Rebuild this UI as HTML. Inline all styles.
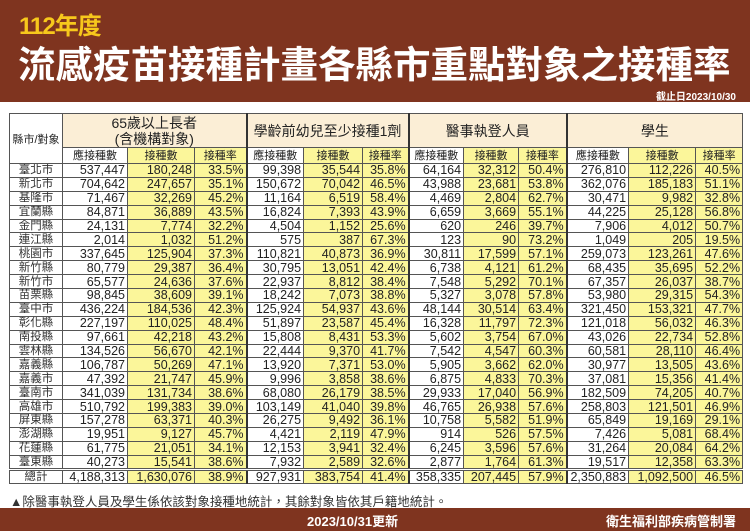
<!DOCTYPE html>
<html><head><meta charset="utf-8"><style>
*{margin:0;padding:0;box-sizing:border-box}
body{width:750px;height:531px;overflow:hidden;background:#fff;font-family:"Liberation Sans","Noto Sans CJK TC",sans-serif;position:relative}
.top{position:absolute;left:0;top:0;width:750px;height:102px;background:#7f341f}
.y{position:absolute;left:19px;top:12px;font-size:24px;font-weight:bold;color:#f7c81c;letter-spacing:-1px;line-height:30px}
.t{position:absolute;left:18px;top:42px;font-size:37.5px;font-weight:bold;color:#fff;white-space:nowrap;line-height:46px}
.d{position:absolute;right:14px;top:88px;font-size:10px;font-weight:bold;color:#fff}
table{position:absolute;left:9px;top:113px;border-collapse:collapse;table-layout:fixed;width:733px;font-size:12.5px;color:#222}
td{border:1px solid #555;white-space:nowrap;overflow:hidden}
tr.d1 td{height:13.9px;line-height:12px;text-align:right;padding-right:2px}
tr.d1 td:first-child{text-align:center;padding:0;font-size:11.5px;color:#333}
.w{background:#fff}.k{background:#fbf69a}
.h{background:#fbeed6;text-align:center;font-size:14px}
.s td{height:16px;text-align:center;font-size:11px;line-height:14px}
tr.tot td{border-top:3px double #555}
.g{border-left:2px solid #333}
.note{position:absolute;left:10px;top:491px;font-size:12.5px;color:#333}
.bot{position:absolute;left:0;top:508px;width:750px;height:23px;background:#7f341f;color:#fff;font-weight:bold;font-size:13px}
</style></head><body>
<div class="top"><div class="y">112年度</div><div class="t">流感疫苗接種計畫各縣市重點對象之接種率</div><div class="d">截止日2023/10/30</div></div>
<table>
<colgroup><col style="width:53px"><col style="width:65px"><col style="width:67px"><col style="width:52px"><col style="width:57px"><col style="width:59px"><col style="width:46px"><col style="width:55px"><col style="width:55px"><col style="width:48px"><col style="width:62px"><col style="width:67px"><col style="width:47px"></colgroup>
<tr><td rowspan="2" style="height:50px;text-align:center;font-size:11px;background:#fff">縣市/對象</td><td colspan="3" class="h" style="height:34px;line-height:16px">65歲以上長者<br>(含機構對象)</td><td colspan="3" class="h g">學齡前幼兒至少接種1劑</td><td colspan="3" class="h g">醫事執登人員</td><td colspan="3" class="h g">學生</td></tr>
<tr class="s"><td class="w">應接種數</td><td class="k">接種數</td><td class="k">接種率</td><td class="w g">應接種數</td><td class="k">接種數</td><td class="k">接種率</td><td class="w g">應接種數</td><td class="k">接種數</td><td class="k">接種率</td><td class="w g">應接種數</td><td class="k">接種數</td><td class="k">接種率</td></tr>
<tr class="d1"><td>臺北市</td><td class="w">537,447</td><td class="k">180,248</td><td class="k">33.5%</td><td class="w g">99,398</td><td class="k">35,544</td><td class="k">35.8%</td><td class="w g">64,164</td><td class="k">32,312</td><td class="k">50.4%</td><td class="w g">276,810</td><td class="k">112,226</td><td class="k">40.5%</td></tr>
<tr class="d1"><td>新北市</td><td class="w">704,642</td><td class="k">247,657</td><td class="k">35.1%</td><td class="w g">150,672</td><td class="k">70,042</td><td class="k">46.5%</td><td class="w g">43,988</td><td class="k">23,681</td><td class="k">53.8%</td><td class="w g">362,076</td><td class="k">185,183</td><td class="k">51.1%</td></tr>
<tr class="d1"><td>基隆市</td><td class="w">71,467</td><td class="k">32,269</td><td class="k">45.2%</td><td class="w g">11,164</td><td class="k">6,519</td><td class="k">58.4%</td><td class="w g">4,469</td><td class="k">2,804</td><td class="k">62.7%</td><td class="w g">30,471</td><td class="k">9,982</td><td class="k">32.8%</td></tr>
<tr class="d1"><td>宜蘭縣</td><td class="w">84,871</td><td class="k">36,889</td><td class="k">43.5%</td><td class="w g">16,824</td><td class="k">7,393</td><td class="k">43.9%</td><td class="w g">6,659</td><td class="k">3,669</td><td class="k">55.1%</td><td class="w g">44,225</td><td class="k">25,128</td><td class="k">56.8%</td></tr>
<tr class="d1"><td>金門縣</td><td class="w">24,131</td><td class="k">7,774</td><td class="k">32.2%</td><td class="w g">4,504</td><td class="k">1,152</td><td class="k">25.6%</td><td class="w g">620</td><td class="k">246</td><td class="k">39.7%</td><td class="w g">7,906</td><td class="k">4,012</td><td class="k">50.7%</td></tr>
<tr class="d1"><td>連江縣</td><td class="w">2,014</td><td class="k">1,032</td><td class="k">51.2%</td><td class="w g">575</td><td class="k">387</td><td class="k">67.3%</td><td class="w g">123</td><td class="k">90</td><td class="k">73.2%</td><td class="w g">1,049</td><td class="k">205</td><td class="k">19.5%</td></tr>
<tr class="d1"><td>桃園市</td><td class="w">337,645</td><td class="k">125,904</td><td class="k">37.3%</td><td class="w g">110,821</td><td class="k">40,873</td><td class="k">36.9%</td><td class="w g">30,811</td><td class="k">17,599</td><td class="k">57.1%</td><td class="w g">259,073</td><td class="k">123,261</td><td class="k">47.6%</td></tr>
<tr class="d1"><td>新竹縣</td><td class="w">80,779</td><td class="k">29,387</td><td class="k">36.4%</td><td class="w g">30,795</td><td class="k">13,051</td><td class="k">42.4%</td><td class="w g">6,738</td><td class="k">4,121</td><td class="k">61.2%</td><td class="w g">68,435</td><td class="k">35,695</td><td class="k">52.2%</td></tr>
<tr class="d1"><td>新竹市</td><td class="w">65,577</td><td class="k">24,636</td><td class="k">37.6%</td><td class="w g">22,937</td><td class="k">8,812</td><td class="k">38.4%</td><td class="w g">7,548</td><td class="k">5,292</td><td class="k">70.1%</td><td class="w g">67,357</td><td class="k">26,037</td><td class="k">38.7%</td></tr>
<tr class="d1"><td>苗栗縣</td><td class="w">98,845</td><td class="k">38,609</td><td class="k">39.1%</td><td class="w g">18,242</td><td class="k">7,073</td><td class="k">38.8%</td><td class="w g">5,327</td><td class="k">3,078</td><td class="k">57.8%</td><td class="w g">53,980</td><td class="k">29,315</td><td class="k">54.3%</td></tr>
<tr class="d1"><td>臺中市</td><td class="w">436,224</td><td class="k">184,536</td><td class="k">42.3%</td><td class="w g">125,924</td><td class="k">54,937</td><td class="k">43.6%</td><td class="w g">48,144</td><td class="k">30,514</td><td class="k">63.4%</td><td class="w g">321,450</td><td class="k">153,321</td><td class="k">47.7%</td></tr>
<tr class="d1"><td>彰化縣</td><td class="w">227,197</td><td class="k">110,025</td><td class="k">48.4%</td><td class="w g">51,897</td><td class="k">23,587</td><td class="k">45.4%</td><td class="w g">16,328</td><td class="k">11,797</td><td class="k">72.3%</td><td class="w g">121,018</td><td class="k">56,032</td><td class="k">46.3%</td></tr>
<tr class="d1"><td>南投縣</td><td class="w">97,661</td><td class="k">42,218</td><td class="k">43.2%</td><td class="w g">15,808</td><td class="k">8,431</td><td class="k">53.3%</td><td class="w g">5,602</td><td class="k">3,754</td><td class="k">67.0%</td><td class="w g">43,026</td><td class="k">22,734</td><td class="k">52.8%</td></tr>
<tr class="d1"><td>雲林縣</td><td class="w">134,526</td><td class="k">56,670</td><td class="k">42.1%</td><td class="w g">22,444</td><td class="k">9,370</td><td class="k">41.7%</td><td class="w g">7,542</td><td class="k">4,547</td><td class="k">60.3%</td><td class="w g">60,581</td><td class="k">28,110</td><td class="k">46.4%</td></tr>
<tr class="d1"><td>嘉義縣</td><td class="w">106,787</td><td class="k">50,269</td><td class="k">47.1%</td><td class="w g">13,920</td><td class="k">7,371</td><td class="k">53.0%</td><td class="w g">5,905</td><td class="k">3,662</td><td class="k">62.0%</td><td class="w g">30,977</td><td class="k">13,505</td><td class="k">43.6%</td></tr>
<tr class="d1"><td>嘉義市</td><td class="w">47,392</td><td class="k">21,747</td><td class="k">45.9%</td><td class="w g">9,996</td><td class="k">3,858</td><td class="k">38.6%</td><td class="w g">6,875</td><td class="k">4,833</td><td class="k">70.3%</td><td class="w g">37,081</td><td class="k">15,356</td><td class="k">41.4%</td></tr>
<tr class="d1"><td>臺南市</td><td class="w">341,039</td><td class="k">131,734</td><td class="k">38.6%</td><td class="w g">68,080</td><td class="k">26,179</td><td class="k">38.5%</td><td class="w g">29,933</td><td class="k">17,040</td><td class="k">56.9%</td><td class="w g">182,509</td><td class="k">74,205</td><td class="k">40.7%</td></tr>
<tr class="d1"><td>高雄市</td><td class="w">510,792</td><td class="k">199,383</td><td class="k">39.0%</td><td class="w g">103,149</td><td class="k">41,040</td><td class="k">39.8%</td><td class="w g">46,765</td><td class="k">26,938</td><td class="k">57.6%</td><td class="w g">258,803</td><td class="k">121,501</td><td class="k">46.9%</td></tr>
<tr class="d1"><td>屏東縣</td><td class="w">157,278</td><td class="k">63,371</td><td class="k">40.3%</td><td class="w g">26,275</td><td class="k">9,492</td><td class="k">36.1%</td><td class="w g">10,758</td><td class="k">5,582</td><td class="k">51.9%</td><td class="w g">65,849</td><td class="k">19,169</td><td class="k">29.1%</td></tr>
<tr class="d1"><td>澎湖縣</td><td class="w">19,951</td><td class="k">9,127</td><td class="k">45.7%</td><td class="w g">4,421</td><td class="k">2,119</td><td class="k">47.9%</td><td class="w g">914</td><td class="k">526</td><td class="k">57.5%</td><td class="w g">7,426</td><td class="k">5,081</td><td class="k">68.4%</td></tr>
<tr class="d1"><td>花蓮縣</td><td class="w">61,775</td><td class="k">21,051</td><td class="k">34.1%</td><td class="w g">12,153</td><td class="k">3,941</td><td class="k">32.4%</td><td class="w g">6,245</td><td class="k">3,596</td><td class="k">57.6%</td><td class="w g">31,264</td><td class="k">20,084</td><td class="k">64.2%</td></tr>
<tr class="d1"><td>臺東縣</td><td class="w">40,273</td><td class="k">15,541</td><td class="k">38.6%</td><td class="w g">7,932</td><td class="k">2,589</td><td class="k">32.6%</td><td class="w g">2,877</td><td class="k">1,764</td><td class="k">61.3%</td><td class="w g">19,517</td><td class="k">12,358</td><td class="k">63.3%</td></tr>
<tr class="d1 tot"><td>總計</td><td class="w">4,188,313</td><td class="k">1,630,076</td><td class="k">38.9%</td><td class="w g">927,931</td><td class="k">383,754</td><td class="k">41.4%</td><td class="w g">358,335</td><td class="k">207,445</td><td class="k">57.9%</td><td class="w g">2,350,883</td><td class="k">1,092,500</td><td class="k">46.5%</td></tr>
</table>
<div class="note">▲除醫事執登人員及學生係依該對象接種地統計，其餘對象皆依其戶籍地統計。</div>
<div class="bot"><span style="position:absolute;left:307px;top:3px">2023/10/31更新</span><span style="position:absolute;right:14px;top:3px">衛生福利部疾病管制署</span></div>
</body></html>
